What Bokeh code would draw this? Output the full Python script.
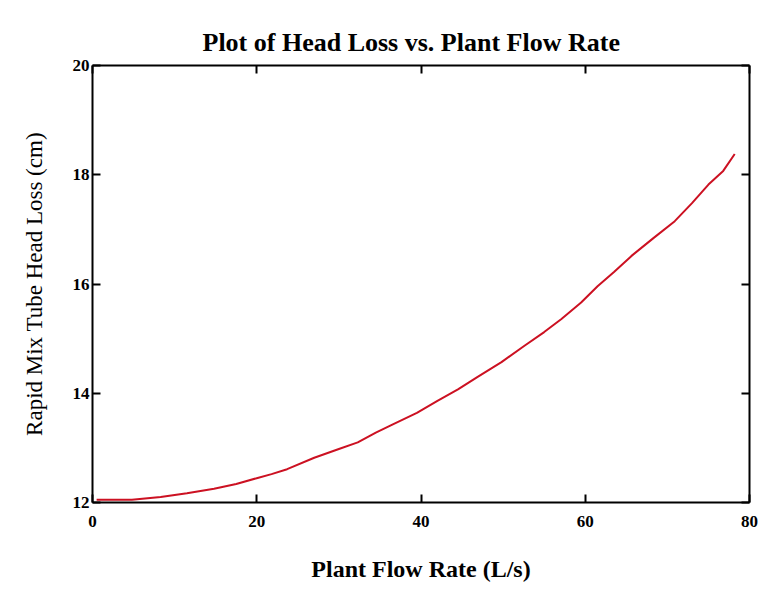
from bokeh.plotting import figure
from bokeh.models import LinearAxis, Range1d, FixedTicker
from bokeh.embed import file_html
from bokeh.resources import INLINE

# Plant flow rate (L/s) and rapid-mix tube head loss (cm)
flow = [0.5, 4.8, 8.3, 11.5, 14.8, 17.5, 20.1, 21.8, 23.7, 27.0, 30.0, 32.3,
        34.5, 36.7, 39.5, 42.0, 44.5, 46.9, 49.8, 52.6, 55.0, 57.1, 59.5,
        61.5, 63.5, 65.6, 68.3, 70.9, 73.0, 75.0, 76.8, 78.2]
head = [12.05, 12.05, 12.10, 12.17, 12.25, 12.34, 12.45, 12.52, 12.61, 12.82,
        12.98, 13.10, 13.28, 13.44, 13.64, 13.86, 14.07, 14.30, 14.57, 14.87,
        15.12, 15.36, 15.66, 15.96, 16.22, 16.51, 16.84, 17.15, 17.48, 17.82,
        18.07, 18.38]

x_ticks = [0, 20, 40, 60, 80]
y_ticks = [12, 14, 16, 18, 20]

SERIF = "Liberation Serif"

p = figure(frame_width=657, frame_height=437,
           min_border_left=92, min_border_right=33,
           min_border_top=65, min_border_bottom=93,
           x_range=Range1d(0, 80), y_range=Range1d(12, 20),
           output_backend="svg", toolbar_location=None,
           title="Plot of Head Loss vs. Plant Flow Rate",
           background_fill_color="white", border_fill_color="white")

p.outline_line_color = None
p.xgrid.visible = False
p.ygrid.visible = False

p.title.align = "left"
p.title.offset = 110
p.title.text_font = SERIF
p.title.text_font_size = "26px"
p.title.text_font_style = "bold"
p.title.text_color = "black"
p.title.standoff = 17


def style(ax, ticks):
    ax.ticker = FixedTicker(ticks=ticks)
    ax.axis_line_width = 2
    ax.axis_line_color = "black"
    ax.major_tick_line_width = 2
    ax.major_tick_line_color = "black"
    ax.major_tick_in = 8
    ax.major_tick_out = 0
    ax.minor_tick_in = 0
    ax.minor_tick_out = 0
    ax.minor_tick_line_color = None
    ax.major_label_text_font = SERIF
    ax.major_label_text_font_size = "17px"
    ax.major_label_text_font_style = "bold"
    ax.major_label_text_color = "black"


xa = p.xaxis[0]
style(xa, x_ticks)
xa.major_label_standoff = 13
xa.axis_label = "Plant Flow Rate (L/s)"
xa.axis_label_text_font = SERIF
xa.axis_label_text_font_size = "24px"
xa.axis_label_text_font_style = "bold"
xa.axis_label_text_color = "black"
xa.axis_label_standoff = 26

ya = p.yaxis[0]
style(ya, y_ticks)
ya.major_label_standoff = 3
ya.axis_label = "Rapid Mix Tube Head Loss (cm)"
ya.axis_label_text_font = SERIF
ya.axis_label_text_font_size = "23px"
ya.axis_label_text_font_style = "normal"
ya.axis_label_text_color = "black"
ya.axis_label_standoff = 23

top = LinearAxis()
style(top, x_ticks)
top.major_label_text_font_size = "1px"
top.major_label_text_color = None
top.major_label_standoff = 0
p.add_layout(top, "above")

right = LinearAxis()
style(right, y_ticks)
right.major_label_text_font_size = "1px"
right.major_label_text_color = None
right.major_label_standoff = 0
p.add_layout(right, "right")

p.line(flow, head, line_color="#cc1122", line_width=2)

open("out.html", "w").write(file_html(p, INLINE))
